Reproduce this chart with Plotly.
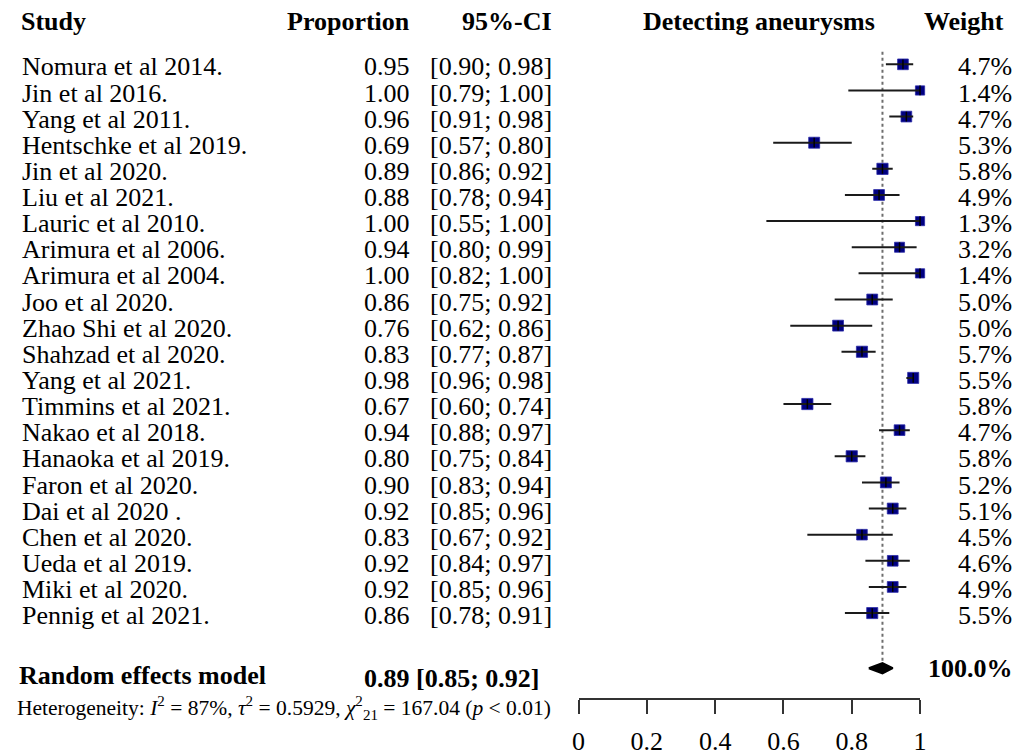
import plotly.graph_objects as go

# ---------------- data ----------------
studies = [
    "Nomura et al 2014.", "Jin et al 2016.", "Yang et al 2011.", "Hentschke et al 2019.",
    "Jin et al 2020.", "Liu et al 2021.", "Lauric et al 2010.", "Arimura et al 2006.",
    "Arimura et al 2004.", "Joo et al 2020.", "Zhao Shi et al 2020.", "Shahzad et al 2020.",
    "Yang et al 2021.", "Timmins et al 2021.", "Nakao et al 2018.", "Hanaoka et al 2019.",
    "Faron et al 2020.", "Dai et al 2020 .", "Chen et al 2020.", "Ueda et al 2019.",
    "Miki et al 2020.", "Pennig et al 2021.",
]
proportion = [0.95, 1.00, 0.96, 0.69, 0.89, 0.88, 1.00, 0.94, 1.00, 0.86, 0.76, 0.83,
              0.98, 0.67, 0.94, 0.80, 0.90, 0.92, 0.83, 0.92, 0.92, 0.86]
ci_low = [0.90, 0.79, 0.91, 0.57, 0.86, 0.78, 0.55, 0.80, 0.82, 0.75, 0.62, 0.77,
          0.96, 0.60, 0.88, 0.75, 0.83, 0.85, 0.67, 0.84, 0.85, 0.78]
ci_high = [0.98, 1.00, 0.98, 0.80, 0.92, 0.94, 1.00, 0.99, 1.00, 0.92, 0.86, 0.87,
           0.98, 0.74, 0.97, 0.84, 0.94, 0.96, 0.92, 0.97, 0.96, 0.91]
weights = [4.7, 1.4, 4.7, 5.3, 5.8, 4.9, 1.3, 3.2, 1.4, 5.0, 5.0, 5.7,
           5.5, 5.8, 4.7, 5.8, 5.2, 5.1, 4.5, 4.6, 4.9, 5.5]

pooled_label = "Random effects model"
pooled_est = 0.89
pooled_low = 0.85
pooled_high = 0.92
pooled_weight = 100.0

tick_vals = [0, 0.2, 0.4, 0.6, 0.8, 1]
tick_text = ["0", "0.2", "0.4", "0.6", "0.8", "1"]

col_headers = ["Study", "Proportion", "95%-CI", "Detecting aneurysms", "Weight"]
heterogeneity = ("Heterogeneity: <i>I</i><sup>2</sup> = 87%, <i>τ</i><sup>2</sup> = 0.5929, "
                 "<i>χ</i><sup>2</sup><sub>21</sub> = 167.04 (<i>p</i> &lt; 0.01)")

# ---------------- layout constants (pixels) ----------------
W, H = 1023, 756
FONT = "Liberation Serif"
FS = 26
ROW0_PX, ROW_STEP = 64.5, 26.2
AXIS_PX = 700.0
X0_PX, X1_PX = 579.5, 925.7


def row_of(py):
    return (py - ROW0_PX) / ROW_STEP


n = len(studies)
rows = list(range(n))

fig = go.Figure()

# dotted reference line at pooled estimate
fig.add_trace(go.Scatter(
    x=[pooled_est, pooled_est], y=[row_of(52), row_of(663)], mode="lines",
    line=dict(color="#6e6e6e", width=2, dash="dot"), hoverinfo="skip", cliponaxis=False))

# squares
fig.add_trace(go.Scatter(
    x=proportion, y=rows, mode="markers",
    marker=dict(symbol="square", size=[8.6 + 0.45 * w for w in weights], color="#000080",
                opacity=1, line=dict(color="#2b2ba8", width=0.8)),
    hoverinfo="skip", cliponaxis=False))

# CI lines
cx, cy = [], []
for lo, hi, r in zip(ci_low, ci_high, rows):
    cx += [lo, hi, None]
    cy += [r, r, None]
fig.add_trace(go.Scatter(x=cx, y=cy, mode="lines", line=dict(color="#1a1a1a", width=2),
                         hoverinfo="skip", cliponaxis=False))

# small vertical tick inside squares
fig.add_trace(go.Scatter(
    x=proportion, y=rows, mode="markers",
    marker=dict(symbol="line-ns", size=7, opacity=1, line=dict(color="black", width=1.5)),
    hoverinfo="skip", cliponaxis=False))

# diamond
drow = row_of(670)
dh = 0.2
fig.add_trace(go.Scatter(
    x=[pooled_low, pooled_est, pooled_high, pooled_est, pooled_low],
    y=[drow, drow - dh, drow, drow + dh, drow],
    mode="lines", fill="toself", fillcolor="black", line=dict(color="black", width=2),
    hoverinfo="skip", cliponaxis=False))

ann = []


def add_text(text, px_x, row, anchor, size=FS):
    ann.append(dict(text=text, x=px_x / W, y=row, xref="paper", yref="y",
                    xanchor=anchor, yanchor="middle", showarrow=False, borderpad=0,
                    font=dict(family=FONT, size=size, color="black")))


hdr_row = row_of(22)
add_text("<b>%s</b>" % col_headers[0], 13, hdr_row, "left")
add_text("<b>%s</b>" % col_headers[1], 410, hdr_row, "right")
add_text("<b>%s</b>" % col_headers[2], 554, hdr_row, "right")
add_text("<b>%s</b>" % col_headers[3], 644, hdr_row, "left")
add_text("<b>%s</b>" % col_headers[4], 929, hdr_row, "left")

for r, s, p, lo, hi, w in zip(rows, studies, proportion, ci_low, ci_high, weights):
    add_text(s, 14, r + 0.1, "left")
    add_text("%.2f" % p, 410, r + 0.1, "right")
    add_text("[%.2f; %.2f]" % (lo, hi), 554, r + 0.1, "right")
    add_text("%.1f%%" % w, 1020, r + 0.1, "right")

add_text("<b>%s</b>" % pooled_label, 11, row_of(677), "left")
add_text("<b>%.2f [%.2f; %.2f]</b>" % (pooled_est, pooled_low, pooled_high), 361, row_of(680), "left")
add_text("<b>%.1f%%</b>" % pooled_weight, 1021, row_of(670), "right")

# heterogeneity line (below the plotting area, so paper coordinates)
ann.append(dict(text=heterogeneity, x=9 / W, y=(H - 710) / H,
                xref="paper", yref="paper", xanchor="left", yanchor="middle",
                showarrow=False, borderpad=0, font=dict(family=FONT, size=21.5, color="black")))

fig.update_layout(
    width=W, height=H, margin=dict(l=0, r=0, t=0, b=0),
    paper_bgcolor="white", plot_bgcolor="white", showlegend=False,
    annotations=ann,
    xaxis=dict(domain=[X0_PX / W, X1_PX / W], range=[0, 1],
               showgrid=False, zeroline=False,
               showline=True, linecolor="#333333", linewidth=2,
               ticks="outside", ticklen=14, tickwidth=2, tickcolor="#333333",
               tickvals=tick_vals, ticktext=tick_text, ticklabelstandoff=5,
               tickfont=dict(family=FONT, size=FS, color="black"),
               fixedrange=True),
    yaxis=dict(domain=[(H - AXIS_PX) / H, 1], range=[row_of(AXIS_PX), row_of(0)],
               visible=False, fixedrange=True),
)

fig.write_html("out.html", config={"displayModeBar": False},
               post_script="document.body.style.margin='0';document.body.style.overflow='hidden';")
